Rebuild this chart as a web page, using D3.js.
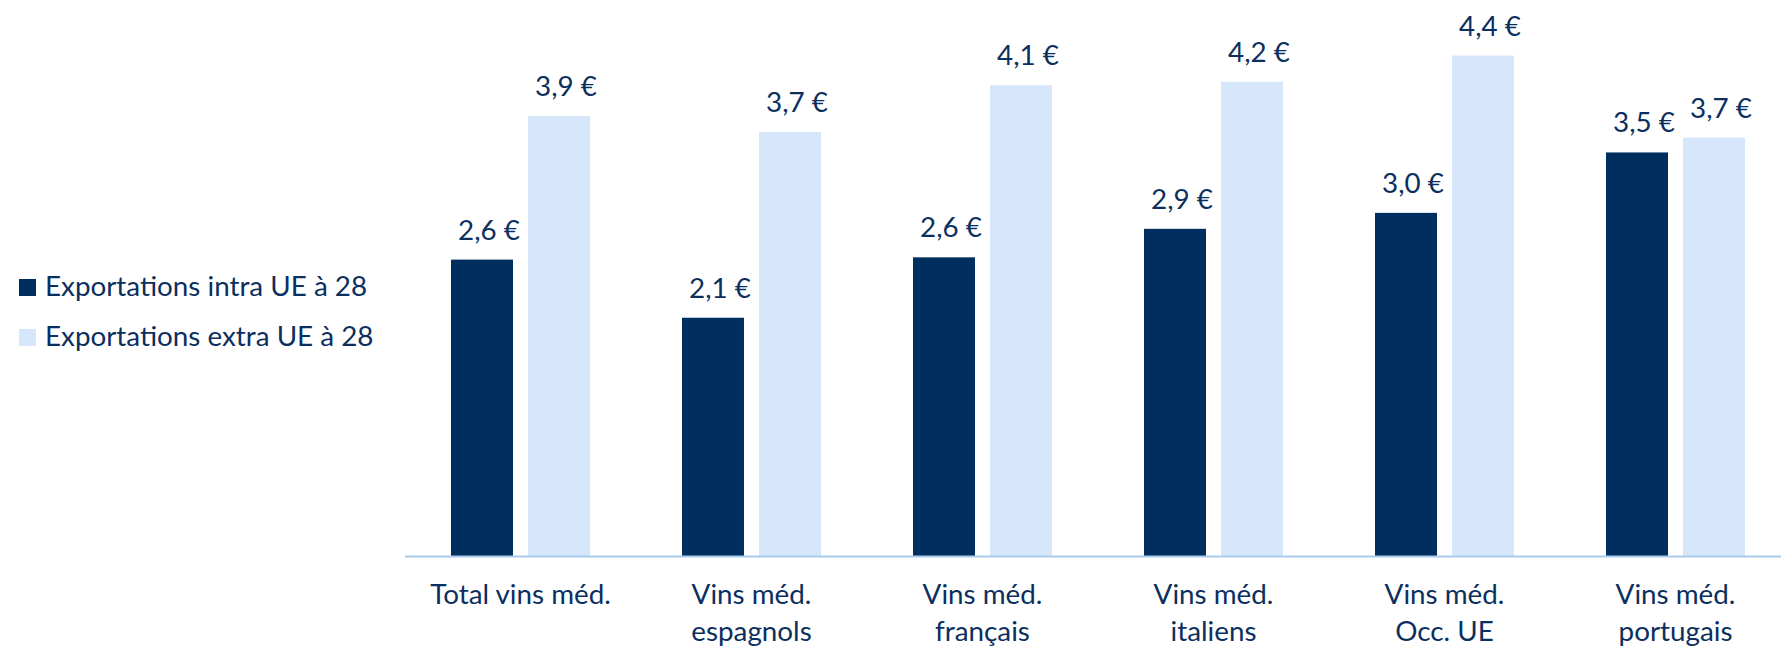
<!DOCTYPE html>
<meta charset="utf-8">
<html>
<style>
body { margin: 0; background: #fff; }
text { font-family: Lato, "Open Sans", sans-serif; fill: #0b2f5e; }
</style>
<svg width="1781" height="646"></svg>
<script src="https://cdn.jsdelivr.net/npm/d3@7"></script>
<script>
var categories = [["Total vins méd."], ["Vins méd.", "espagnols"], ["Vins méd.", "français"],
                  ["Vins méd.", "italiens"], ["Vins méd.", "Occ. UE"], ["Vins méd.", "portugais"]];
var series = ["Exportations intra UE à 28", "Exportations extra UE à 28"];
var intra = [2.60, 2.09, 2.62, 2.87, 3.01, 3.54];
var extra = [3.86, 3.72, 4.13, 4.16, 4.39, 3.67];
var colors = ["#002f5f", "#d6e7fc"];

var svg = d3.select("svg"),
    fontSize = 27.8;

var x0 = d3.scaleBand()
    .domain(d3.range(categories.length))
    .range([405, 1791]);

var x1 = d3.scaleBand()
    .domain(series)
    .range([46, 185])
    .paddingInner(0.195);

var y = d3.scaleLinear()
    .domain([0, 5])
    .range([556, -14]);

var fmt = function(v) { return d3.format(".1f")(v).replace(".", ",") + " €"; };

var rows = categories.map(function(c, i) {
  return { i: i, vals: [intra[i], extra[i]] };
});

// bars
var group = svg.append("g")
  .selectAll("g")
  .data(rows)
  .join("g")
    .attr("transform", d => "translate(" + x0(d.i) + ",0)");

group.selectAll("rect")
  .data(d => d.vals.map((v, k) => ({ k: k, v: v })))
  .join("rect")
    .attr("x", d => x1(series[d.k]))
    .attr("width", x1.bandwidth())
    .attr("y", d => y(d.v))
    .attr("height", d => y(0) - y(d.v))
    .attr("fill", d => colors[d.k]);

group.selectAll("text")
  .data(d => d.vals.map((v, k) => ({ k: k, v: v })))
  .join("text")
    .attr("x", d => x1(series[d.k]) + x1.bandwidth() / 2 + 7)
    .attr("y", d => y(d.v) - 20)
    .attr("text-anchor", "middle")
    .style("font-size", fontSize + "px")
    .text(d => fmt(d.v));

// axis line
svg.append("line")
    .attr("x1", x0.range()[0])
    .attr("x2", x0.range()[1])
    .attr("y1", y(0) + 0.5)
    .attr("y2", y(0) + 0.5)
    .attr("stroke", "#a9cbee")
    .attr("stroke-width", 2);

// category labels
var cat = svg.append("g")
  .selectAll("text")
  .data(rows)
  .join("text")
    .attr("text-anchor", "middle")
    .style("font-size", fontSize + "px");

cat.selectAll("tspan")
  .data(d => categories[d.i].map(t => ({ t: t, i: d.i })))
  .join("tspan")
    .attr("x", d => x0(d.i) + x0.bandwidth() / 2)
    .attr("y", (d, j) => 604 + j * 37)
    .text(d => d.t);

// legend
var legend = svg.append("g")
  .selectAll("g")
  .data(series)
  .join("g")
    .attr("transform", (d, i) => "translate(19," + (279 + i * 50) + ")");

legend.append("rect")
    .attr("width", 17)
    .attr("height", 17)
    .attr("fill", (d, i) => colors[i]);

legend.append("text")
    .attr("x", 26)
    .attr("y", 17)
    .style("font-size", fontSize + "px")
    .text(d => d);
</script>
</html>
